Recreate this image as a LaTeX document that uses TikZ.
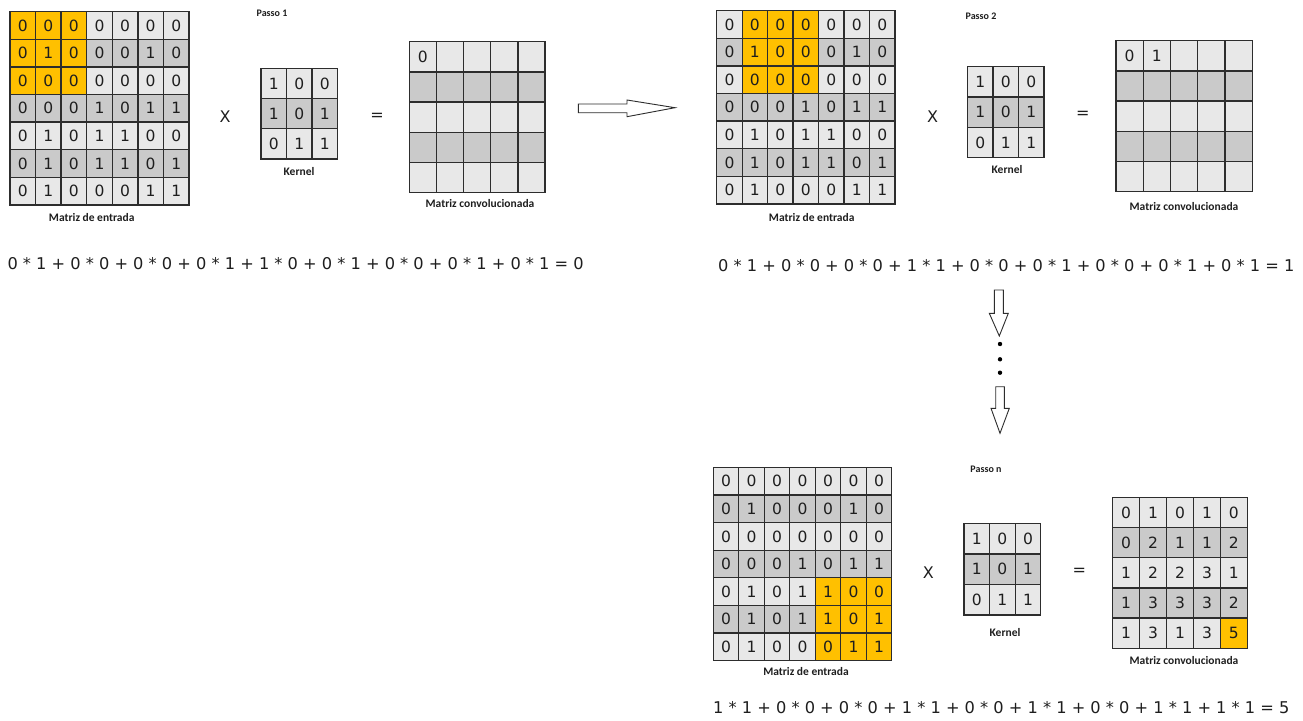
\documentclass[tikz,border=0pt]{standalone}
\usepackage{fontspec}
\setmainfont{DejaVu Sans}
\newfontfamily\lblfont{Carlito}
\definecolor{lightcell}{RGB}{232,232,232}
\definecolor{darkcell}{RGB}{202,202,202}
\definecolor{hlcell}{RGB}{255,192,0}
\definecolor{gridline}{RGB}{45,45,45}
\definecolor{txt}{RGB}{30,30,30}
\tikzset{
  cellbox/.style={draw=gridline, line width=1.3pt, inner sep=0pt, text=txt,
    font=\fontsize{15.5}{15.5}\selectfont},
  lbl/.style={inner sep=0pt, text=txt, font=\lblfont\bfseries\fontsize{11.5}{12}\selectfont},
  passolbl/.style={inner sep=0pt, text=txt, font=\lblfont\bfseries\fontsize{10}{11}\selectfont},
  opsym/.style={inner sep=0pt, text=txt, font=\fontsize{16}{16}\selectfont},
  eqn/.style={inner sep=0pt, anchor=west, text=txt, font=\fontsize{16.2}{16.2}\selectfont},
  blockarrow/.style={draw=gridline, line width=0.9pt, fill=white, line join=miter},
}
% #1 name, #2 x0, #3 y0, #4 cell width, #5 cell height, #6 rows
\newcommand\drawmat[6]{%
  \foreach \rowdata [count=\r] in {#6} {
    \foreach \v [count=\c] in \rowdata {
      \pgfmathsetmacro\cx{#2+(\c-0.5)*#4}
      \pgfmathsetmacro\cy{#3+(\r-0.5)*#5}
      \ifodd\r\relax \def\cfill{lightcell}\else \def\cfill{darkcell}\fi
      \ifnum\r<\hra\relax\else\ifnum\r>\hrb\relax\else\ifnum\c<\hca\relax\else\ifnum\c>\hcb\relax\else\def\cfill{hlcell}\fi\fi\fi\fi
      \node[cellbox, minimum width=#4 pt, minimum height=#5 pt, fill=\cfill] (#1-\r-\c) at (\cx,\cy) {\if-\v\else\v\fi};
    }
  }
}
\newcommand\sethl[4]{\gdef\hra{#1}\gdef\hrb{#2}\gdef\hca{#3}\gdef\hcb{#4}}
\begin{document}
\begin{tikzpicture}[x=1pt,y=-1pt]
\useasboundingbox[fill=white] (0,0) rectangle (1303,720);

% ---------- Passo 1 ----------
\sethl{1}{3}{1}{3}
\drawmat{inA}{10}{11.7}{25.57}{27.61}{{0,0,0,0,0,0,0},{0,1,0,0,0,1,0},{0,0,0,0,0,0,0},{0,0,0,1,0,1,1},{0,1,0,1,1,0,0},{0,1,0,1,1,0,1},{0,1,0,0,0,1,1}}
\sethl{0}{-1}{0}{-1}
\drawmat{kA}{261}{68.3}{25.57}{30.23}{{1,0,0},{1,0,1},{0,1,1}}
\drawmat{cA}{409.3}{41.7}{27.14}{30.2}{{0,-,-,-,-},{-,-,-,-,-},{-,-,-,-,-},{-,-,-,-,-},{-,-,-,-,-}}
\node[passolbl] (pA) at (272,13) {Passo 1};
\node[lbl] (lInA) at (91.7,217.3) {Matriz de entrada};
\node[lbl] (lkA) at (299,172) {Kernel};
\node[lbl] (lcA) at (480,204) {Matriz convolucionada};
\node[opsym] (xA) at (225,117) {X};
\node[opsym] (eA) at (377,117) {=};
\node[eqn] (eqA) at (7.3,263.3) {0 * 1 + 0 * 0 + 0 * 0 + 0 * 1 + 1 * 0 + 0 * 1 + 0 * 0 + 0 * 1 + 0 * 1 = 0};

% ---------- Passo 2 ----------
\sethl{1}{3}{2}{4}
\drawmat{inB}{716.7}{10.7}{25.47}{27.61}{{0,0,0,0,0,0,0},{0,1,0,0,0,1,0},{0,0,0,0,0,0,0},{0,0,0,1,0,1,1},{0,1,0,1,1,0,0},{0,1,0,1,1,0,1},{0,1,0,0,0,1,1}}
\sethl{0}{-1}{0}{-1}
\drawmat{kB}{967.7}{66.7}{25.43}{30.33}{{1,0,0},{1,0,1},{0,1,1}}
\drawmat{cB}{1116}{40.7}{27.26}{30.2}{{0,1,-,-,-},{-,-,-,-,-},{-,-,-,-,-},{-,-,-,-,-},{-,-,-,-,-}}
\node[passolbl] (pB) at (981,16) {Passo 2};
\node[lbl] (lInB) at (811.7,218) {Matriz de entrada};
\node[lbl] (lkB) at (1007,170) {Kernel};
\node[lbl] (lcB) at (1184,206.7) {Matriz convolucionada};
\node[opsym] (xB) at (932.7,117) {X};
\node[opsym] (eB) at (1082.7,115) {=};
\node[eqn] (eqB) at (718,266) {0 * 1 + 0 * 0 + 0 * 0 + 1 * 1 + 0 * 0 + 0 * 1 + 0 * 0 + 0 * 1 + 0 * 1 = 1};

% ---------- Passo n ----------
\sethl{5}{7}{5}{7}
\drawmat{inC}{713.3}{467.3}{25.49}{27.63}{{0,0,0,0,0,0,0},{0,1,0,0,0,1,0},{0,0,0,0,0,0,0},{0,0,0,1,0,1,1},{0,1,0,1,1,0,0},{0,1,0,1,1,0,1},{0,1,0,0,0,1,1}}
\sethl{0}{-1}{0}{-1}
\drawmat{kC}{964}{523.3}{25.57}{30.57}{{1,0,0},{1,0,1},{0,1,1}}
\sethl{5}{5}{5}{5}
\drawmat{cC}{1112.7}{497.3}{26.92}{30.2}{{0,1,0,1,0},{0,2,1,1,2},{1,2,2,3,1},{1,3,3,3,2},{1,3,1,3,5}}
\node[passolbl] (pC) at (986,469.3) {Passo n};
\node[lbl] (lInC) at (806,671.7) {Matriz de entrada};
\node[lbl] (lkC) at (1005,632.7) {Kernel};
\node[lbl] (lcC) at (1184,660.7) {Matriz convolucionada};
\node[opsym] (xC) at (928.3,573) {X};
\node[opsym] (eC) at (1079.3,571.7) {=};
\node[eqn] (eqC) at (713,708) {1 * 1 + 0 * 0 + 0 * 0 + 1 * 1 + 0 * 0 + 1 * 1 + 0 * 0 + 1 * 1 + 1 * 1 = 5};

% ---------- block arrows and dots ----------
\draw[blockarrow] (578.3,104) -- (627,104) -- (627,100) -- (675,107.7) -- (627,116.7) -- (627,112.7) -- (578.3,112.7) -- cycle;
\draw[blockarrow] (994.3,290) -- (994.3,313.3) -- (989.3,313.3) -- (999.3,336) -- (1008.3,313.3) -- (1003.3,313.3) -- (1003.3,290) -- cycle;
\fill[black] (1000,344) circle[radius=2.2pt];
\fill[black] (1000,359.3) circle[radius=2.2pt];
\fill[black] (1000,372.7) circle[radius=2.2pt];
\draw[blockarrow] (995.7,386.7) -- (995.7,408.3) -- (991,408.3) -- (1000,433.3) -- (1009.3,408.3) -- (1004.3,408.3) -- (1004.3,386.7) -- cycle;
\end{tikzpicture}
\end{document}
